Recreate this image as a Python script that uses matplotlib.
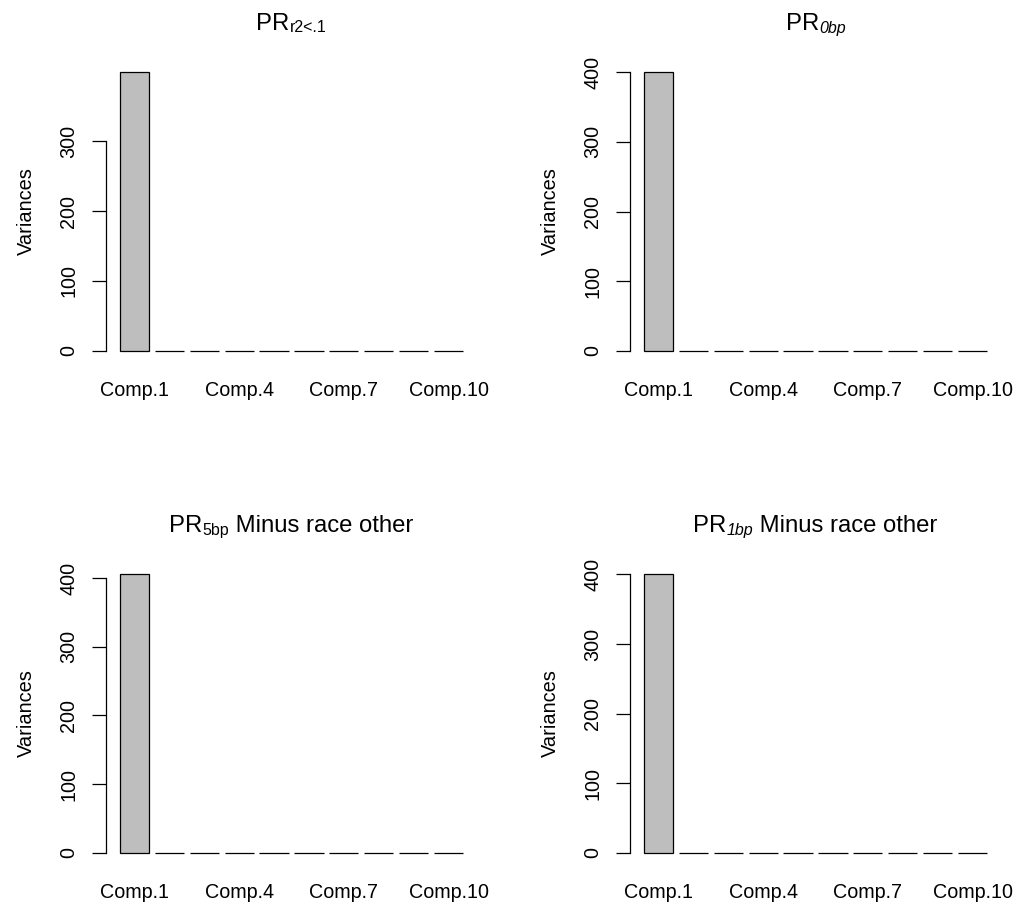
import numpy as np
import matplotlib
matplotlib.use("Agg")
import matplotlib.pyplot as plt

plt.rcParams['font.family'] = ['Liberation Sans', 'DejaVu Sans']

# scree plot data: variances of the 10 principal components per model
components = ['Comp.%d' % i for i in range(1, 11)]
var_r2 = [398.6, 0.2, 0.15, 0.1, 0.1, 0.08, 0.06, 0.05, 0.04, 0.03]
var_0bp = [400.2, 0.2, 0.15, 0.1, 0.1, 0.08, 0.06, 0.05, 0.04, 0.03]
var_5bp = [405.8, 0.2, 0.15, 0.1, 0.1, 0.08, 0.06, 0.05, 0.04, 0.03]
var_1bp = [400.4, 0.2, 0.15, 0.1, 0.1, 0.08, 0.06, 0.05, 0.04, 0.03]

# title pieces: main text, subscript, subscript style, trailing text
titles = [('PR', 'r2<.1', 'normal', ''),
          ('PR', '0bp', 'italic', ''),
          ('PR', '5bp', 'normal', ' Minus race other'),
          ('PR', '1bp', 'italic', ' Minus race other')]
variances = [var_r2, var_0bp, var_5bp, var_1bp]

W, H = 1017, 907
fig = plt.figure(figsize=(W / 100, H / 100), dpi=100)
renderer = fig.canvas.get_renderer()

# plot regions in pixels: (left, top, right, bottom)
regions = [(106, 61, 477, 362), (630, 61, 1001, 362),
           (106, 563, 477, 864), (630, 563, 1001, 864)]


def draw_title(cx, base_y, parts):
    main, sub, sub_style, rest = parts
    pieces = [fig.text(0, 0, main, fontsize=17.2, va='baseline'),
              fig.text(0, 0, sub, fontsize=11.5, style=sub_style, va='baseline'),
              fig.text(0, 0, rest, fontsize=17.2, va='baseline')]
    widths = [p.get_window_extent(renderer).width if p.get_text() else 0
              for p in pieces]
    x = cx - sum(widths) / 2
    for p, w, dy in zip(pieces, widths, [0, -2.5, 0]):
        p.set_position((x / W, (H - base_y + dy) / H))
        x += w


for (l, t, r, b), vals, title in zip(regions, variances, titles):
    ax = fig.add_axes([l / W, (H - b) / H, (r - l) / W, (b - t) / H])
    n = len(vals)
    lefts = 0.2 + 1.2 * np.arange(n)
    ax.bar(lefts, vals, width=1.0, align='edge', color='#bebebe',
           edgecolor='black', linewidth=0.9)
    xr = lefts[-1] + 1.0 - lefts[0]
    ax.set_xlim(lefts[0] - 0.04 * xr, lefts[-1] + 1.0 + 0.04 * xr)
    top = max(vals)
    ax.set_ylim(-0.04 * top, 1.04 * top)

    yt = np.arange(0, top + 1, 100)
    ax.set_yticks(yt)
    ax.set_yticklabels(['%d' % v for v in yt], rotation=90, va='center',
                       fontsize=14.2)
    ax.tick_params(axis='y', length=10, width=0.9, pad=10)
    ax.spines['left'].set_bounds(0, yt[-1])
    ax.spines['left'].set_linewidth(0.9)
    for s in ['top', 'right', 'bottom']:
        ax.spines[s].set_visible(False)

    centers = lefts + 0.5
    ax.set_xticks(centers[::3])
    ax.set_xticklabels(components[::3], fontsize=14.2)
    ax.tick_params(axis='x', length=0, pad=14)

    ax.set_ylabel('Variances', fontsize=14.4, labelpad=17)
    draw_title((l + r) / 2, t - 31, title)

fig.savefig('out.png', dpi=100)
